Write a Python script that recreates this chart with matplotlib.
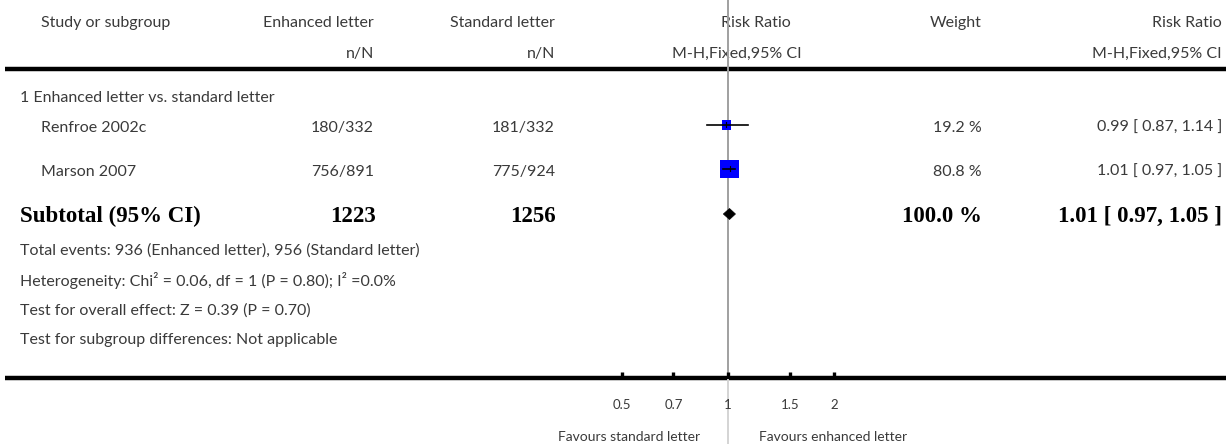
import matplotlib
matplotlib.use('Agg')
import matplotlib.pyplot as plt
import matplotlib.patches as patches

# data
studies = ['Renfroe 2002c', 'Marson 2007']
enh_events = [180, 756]
enh_total = [332, 891]
std_events = [181, 775]
std_total = [332, 924]
rr = [0.99, 1.01]
rr_lo = [0.87, 0.97]
rr_hi = [1.14, 1.05]
weights = [19.2, 80.8]
pooled = [1.01, 0.97, 1.05]
xticks = [0.5, 0.7, 1, 1.5, 2]
xtick_labels = ['0.5', '0.7', '1', '1.5', '2']
group_label = '1 Enhanced letter vs. standard letter'
footer = [
    'Total events: 936 (Enhanced letter), 956 (Standard letter)',
    'Heterogeneity: Chi² = 0.06, df = 1 (P = 0.80); I² =0.0%',
    'Test for overall effect: Z = 0.39 (P = 0.70)',
    'Test for subgroup differences: Not applicable',
]

W, H = 1226, 444
fig = plt.figure(figsize=(W / 100, H / 100), dpi=100)
ax = fig.add_axes([0, 0, 1, 1])
ax.set_xlim(0, W)
ax.set_ylim(H, 0)
ax.axis('off')

# forest axes, log scale, pixel y
x_lo, x_hi = 0.2, 5.0
px_lo, px_hi = 482, 974
ax2 = fig.add_axes([px_lo / W, 0, (px_hi - px_lo) / W, 1])
ax2.set_xscale('log')
ax2.set_xlim(x_lo, x_hi)
ax2.set_ylim(H, 0)
ax2.axis('off')

sans = ['Lato', 'DejaVu Sans']
fs = 11.5
col = '#3a3a3a'
txt = dict(family=sans, fontsize=fs, color=col, va='center')
bold = dict(family=['Liberation Serif'], fontsize=16.5, fontweight='bold', color='black', va='center')

# header
ax.text(41, 23, 'Study or subgroup', ha='left', **txt)
ax.text(374, 23, 'Enhanced letter', ha='right', **txt)
ax.text(555, 23, 'Standard letter', ha='right', **txt)
ax.text(756, 23, 'Risk Ratio', ha='center', **txt)
ax.text(982, 23, 'Weight', ha='right', **txt)
ax.text(1222, 23, 'Risk Ratio', ha='right', **txt)
ax.text(374, 54, 'n/N', ha='right', **txt)
ax.text(555, 54, 'n/N', ha='right', **txt)
ax.text(737, 54, 'M-H,Fixed,95% CI', ha='center', **txt)
ax.text(1222, 54, 'M-H,Fixed,95% CI', ha='right', **txt)

ax.plot([5, W], [69, 69], color='black', lw=3.2, solid_capstyle='butt')
ax.plot([5, W], [378, 378], color='black', lw=3.2, solid_capstyle='butt')

# null line
ax2.plot([1, 1], [0, 376], color='#a0a0a0', lw=1.4, zorder=1)
ax2.plot([1, 1], [380, H], color='#d4d4d4', lw=1.4, zorder=1)

ax.text(20, 98, group_label, ha='left', **txt)

row_y = [128, 172]
for i, name in enumerate(studies):
    y = row_y[i]
    ax.text(41, y, name, ha='left', **txt)
    ax.text(374, y, f'{enh_events[i]}/{enh_total[i]}', ha='right', **txt)
    ax.text(555, y, f'{std_events[i]}/{std_total[i]}', ha='right', **txt)
    ax.text(982, y, f'{weights[i]:.1f} %', ha='right', **txt)
    ax.text(1222, y, f'{rr[i]:.2f} [ {rr_lo[i]:.2f}, {rr_hi[i]:.2f} ]', ha='right', **txt)
    yc = y - 3
    side = 2.11 * weights[i] ** 0.5
    ax2.scatter([rr[i]], [yc], marker='s', s=(side * 0.72) ** 2, color='#0000ff',
                edgecolors='none', zorder=3)
    ax2.plot([rr_lo[i], rr_hi[i]], [yc, yc], color='black', lw=1.2, zorder=4)
    ax2.plot([rr[i], rr[i]], [yc - 2.5, yc + 2.5], color='black', lw=0.8, zorder=4)

# subtotal
sy = 216
ax.text(20, sy, 'Subtotal (95% CI)', ha='left', **bold)
ax.text(376, sy, str(sum(enh_total)), ha='right', **bold)
ax.text(556, sy, str(sum(std_total)), ha='right', **bold)
ax.text(982, sy, f'{sum(weights):.1f} %', ha='right', **bold)
ax.text(1222, sy, f'{pooled[0]:.2f} [ {pooled[1]:.2f}, {pooled[2]:.2f} ]', ha='right', **bold)
dy = sy - 2
diamond = patches.Polygon([[pooled[1], dy], [pooled[0], dy - 5.5], [pooled[2], dy], [pooled[0], dy + 5.5]],
                          closed=True, facecolor='black', edgecolor='black', lw=0.5, zorder=3)
ax2.add_patch(diamond)

for k, line in enumerate(footer):
    ax.text(20, 251 + k * 29.7, line, ha='left', **txt)

# x axis ticks
for t, lab in zip(xticks, xtick_labels):
    ax2.plot([t, t], [372, 378], color='black', lw=2.4, solid_capstyle='butt')
    ax2.text(t, 405, lab, ha='center', va='center', family=sans, fontsize=9.5, color=col)

ax2.text(0.833, 437, 'Favours standard letter', ha='right', va='center', family=sans, fontsize=10, color=col)
ax2.text(1.225, 437, 'Favours enhanced letter', ha='left', va='center', family=sans, fontsize=10, color=col)

fig.savefig('out.png', dpi=100)
